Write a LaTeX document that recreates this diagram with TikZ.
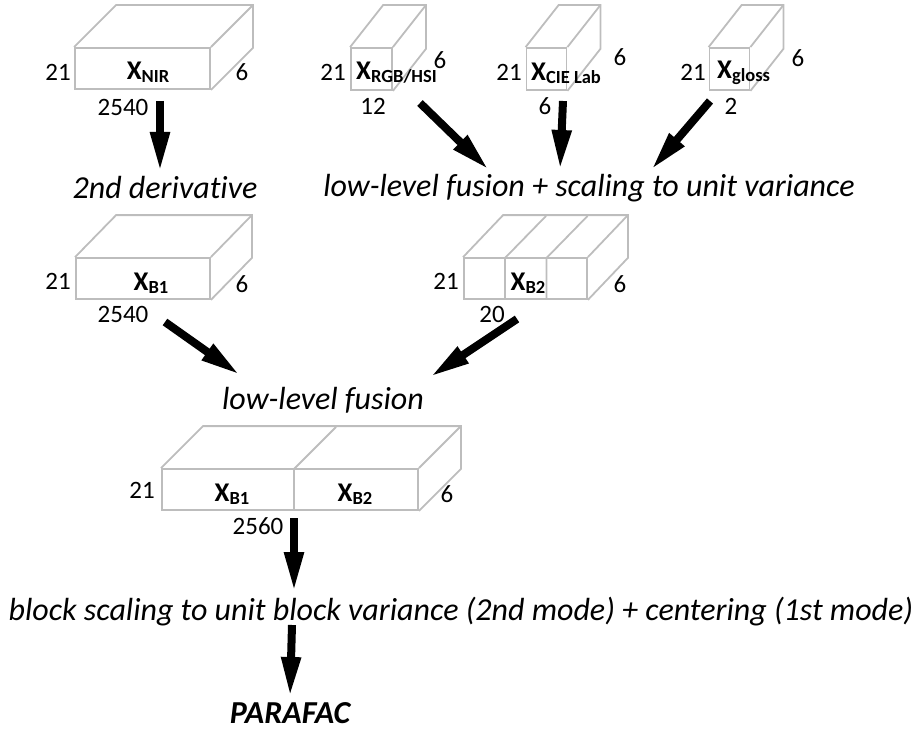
\documentclass[tikz,border=0pt]{standalone}
\usepackage{fontspec}
\setmainfont{Carlito}[Ligatures={NoCommon,NoRare,NoDiscretionary,NoContextual}]
\usetikzlibrary{arrows.meta,calc}
\newcommand\capfont{\fontsize{32}{36}\selectfont\itshape}
\newcommand\numfont{\fontsize{25}{28}\selectfont}
\newcommand\xlab[1]{{\fontsize{27}{28}\selectfont\bfseries X}{\fontsize{18.5}{20}\selectfont\bfseries\raisebox{-3pt}{#1}}}
\newcommand\cubedepth[3]{%
  \draw[boxline] (#1.north west) -- ++(#2,-#3) -| ($(#1.south east)+(#2,-#3)$) -- (#1.south east);
  \draw[boxline] (#1.north east) -- ++(#2,-#3);}
\tikzset{
  boxline/.style={draw=black!26, line width=1.8pt, line join=miter},
  front/.style={boxline, rectangle, inner sep=0pt},
  num/.style={font=\numfont, inner sep=0pt},
  xl/.style={inner sep=0pt},
  captext/.style={font=\capfont, inner sep=0pt},
  fat/.style={line width=8pt, -{Triangle[width=18pt,length=40pt]}},
}
\begin{document}
\begin{tikzpicture}[x=1pt,y=-1pt]
\useasboundingbox (0,0) rectangle (921,733);
% ---- top row
\node[front, minimum width=135pt, minimum height=41pt] (nir) at (142.5,68.5) {};
\cubedepth{nir}{42}{42}
\node[xl] (nirl) at (148,72) {\xlab{NIR}};
\node[num, anchor=east] (nir21) at (71,72) {21};
\node[num] (nir6) at (242,72) {6};
\node[num] (nirn) at (123,107) {2540};

\node[front, minimum width=41pt, minimum height=42pt] (rgb) at (371.5,69) {};
\cubedepth{rgb}{33}{42}
\node[xl, anchor=west] (rgbl) at (356,73) {\xlab{RGB/HSI}};
\node[num, anchor=east] (rgb21) at (346,72) {21};
\node[num] (rgb6) at (440,60) {6};
\node[num] (rgbn) at (373,106) {12};

\node[front, minimum width=40pt, minimum height=42pt] (cie) at (546.5,69) {};
\cubedepth{cie}{33}{42}
\node[xl, anchor=west] (ciel) at (531,73) {\xlab{CIE Lab}};
\node[num, anchor=east] (cie21) at (522,72) {21};
\node[num] (cie6) at (620,57) {6};
\node[num] (cien) at (545,106) {6};

\node[front, minimum width=40pt, minimum height=42pt] (glo) at (729.5,69) {};
\cubedepth{glo}{33}{42}
\node[xl, anchor=west] (glol) at (717,73) {\xlab{gloss}};
\node[num, anchor=east] (glo21) at (706,72) {21};
\node[num] (glo6) at (798,58) {6};
\node[num] (glon) at (731,106) {2};

\node[captext] (deriv) at (165,188) {2nd derivative};
\node[captext] (llf1) at (589,188) {low-level fusion + scaling to unit variance};

\coordinate (a1s) at (160,101);
\coordinate (a1e) at (160,172);
\draw[fat] (a1s) -- (a1e);
\coordinate (a2s) at (420,103);
\coordinate (a2e) at (489,170);
\draw[fat] (a2s) -- (a2e);
\coordinate (a3s) at (563,101);
\coordinate (a3e) at (560,170);
\draw[fat] (a3s) -- (a3e);
\coordinate (a4s) at (710,101);
\coordinate (a4e) at (651,170);
\draw[fat] (a4s) -- (a4e);

% ---- second row
\node[front, minimum width=134pt, minimum height=41pt] (b1) at (143,278.5) {};
\cubedepth{b1}{41}{42}
\node[xl] (b1l) at (151,283) {\xlab{B1}};
\node[num, anchor=east] (b121) at (71,281) {21};
\node[num] (b16) at (242,284) {6};
\node[num] (b1n) at (123,314) {2540};

\node[front, minimum width=123pt, minimum height=41pt] (b2) at (525.5,278.5) {};
\cubedepth{b2}{40}{42}
\draw[boxline] (505,258) -- ++(0,41) (505,258) -- ++(41,-42);
\draw[boxline] (546.5,258) -- ++(0,41) (546.5,258) -- ++(41,-42);
\node[xl] (b2l) at (528,283) {\xlab{B2}};
\node[num, anchor=east] (b221) at (459,281) {21};
\node[num] (b26) at (620,284) {6};
\node[num] (b2n) at (492,314) {20};

\node[captext] (llf2) at (323,400) {low-level fusion};

\coordinate (b1s) at (165,322);
\coordinate (b1e) at (240,375);
\draw[fat] (b1s) -- (b1e);
\coordinate (b2s) at (517,319);
\coordinate (b2e) at (430,377);
\draw[fat] (b2s) -- (b2e);

% ---- merged
\node[front, minimum width=256pt, minimum height=41pt] (m) at (290,489.5) {};
\cubedepth{m}{42}{42}
\draw[boxline] (294,469) -- ++(0,41) (294,469) -- ++(42,-42);
\node[xl] (ml1) at (232,494) {\xlab{B1}};
\node[xl] (ml2) at (355,494) {\xlab{B2}};
\node[num, anchor=east] (m21) at (155,490) {21};
\node[num] (m6) at (447,494) {6};
\node[num] (mn) at (258,526) {2560};

\node[captext] (bs) at (461,612) {block scaling to unit block variance (2nd mode) + centering (1st mode)};
\node[captext, font=\capfont\bfseries] (par) at (290,713) {PARAFAC};

\coordinate (c1s) at (294,518);
\coordinate (c1e) at (294,592);
\draw[fat] (c1s) -- (c1e);
\coordinate (c2s) at (292,625);
\coordinate (c2e) at (290,697);
\draw[fat] (c2s) -- (c2e);
\end{tikzpicture}
\end{document}
